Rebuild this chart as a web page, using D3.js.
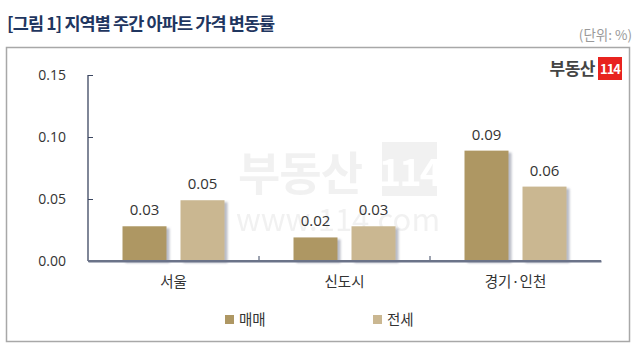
<!DOCTYPE html>
<html>
<meta charset="utf-8">
<title>지역별 주간 아파트 가격 변동률</title>
<style>
  body {
    margin: 0px;
    background: white;
  }
  text {
    font-family: "Noto Sans CJK KR", "Noto Sans", sans-serif;
  }
</style>
<script src="https://cdnjs.cloudflare.com/ajax/libs/d3/7.8.5/d3.min.js"></script>
<body>
<svg width="640" height="352"></svg>
<script>

const regions = ["서울", "신도시", "경기·인천"];
const seriesNames = ["매매", "전세"];
const saleValues = [0.028, 0.019, 0.089];
const rentValues = [0.049, 0.028, 0.060];
const yTicks = [0.00, 0.05, 0.10, 0.15];
const colors = ["#ae9763", "#cab791"];

const svg = d3.select("svg");

// shadow for the bars
const defs = svg.append("defs");
const shadow = defs.append("filter")
    .attr("id", "shadow")
    .attr("x", "-10%").attr("y", "-10%")
    .attr("width", "130%").attr("height", "130%");
shadow.append("feDropShadow")
    .attr("dx", 3).attr("dy", 2)
    .attr("stdDeviation", 1.2)
    .attr("flood-color", "#8a8fa0")
    .attr("flood-opacity", 0.6);

// title
svg.append("text")
    .attr("x", 7)
    .attr("y", 30)
    .style("font-size", "17.5px")
    .style("font-weight", "bold")
    .style("letter-spacing", "-0.9px")
    .style("fill", "#1f3660")
    .text("[그림 1] 지역별 주간 아파트 가격 변동률");

svg.append("text")
    .attr("x", 632)
    .attr("y", 40)
    .attr("text-anchor", "end")
    .style("font-size", "13.5px")
    .style("fill", "#9a9a9a")
    .text("(단위: %)");

// frame
svg.append("rect")
    .attr("x", 6.5).attr("y", 47.5)
    .attr("width", 623).attr("height", 294)
    .style("fill", "none")
    .style("stroke", "#a8a8a8")
    .style("stroke-width", 1.5);

// watermark
const wm = svg.append("g").style("opacity", 0.08);
wm.append("text")
    .attr("x", 238).attr("y", 190)
    .style("font-size", "46px")
    .style("font-weight", "bold")
    .style("letter-spacing", "-1px")
    .style("fill", "#555")
    .text("부동산");
wm.append("rect")
    .attr("x", 382).attr("y", 142)
    .attr("width", 55).attr("height", 54)
    .style("fill", "#555");
wm.append("text")
    .attr("x", 409.5).attr("y", 186)
    .attr("text-anchor", "middle")
    .style("font-size", "38px")
    .style("font-weight", "bold")
    .style("letter-spacing", "-2px")
    .style("fill", "white")
    .text("114");
wm.append("text")
    .attr("x", 338).attr("y", 231)
    .attr("text-anchor", "middle")
    .style("font-size", "31px")
    .style("fill", "#555")
    .text("www.114.com");

// logo
svg.append("text")
    .attr("x", 595).attr("y", 75)
    .attr("text-anchor", "end")
    .style("font-size", "17px")
    .style("font-weight", "bold")
    .style("letter-spacing", "-0.5px")
    .style("fill", "#444")
    .text("부동산");
svg.append("rect")
    .attr("x", 598).attr("y", 57)
    .attr("width", 24).attr("height", 23)
    .style("fill", "#e8231f");
svg.append("text")
    .attr("x", 610).attr("y", 74)
    .attr("text-anchor", "middle")
    .style("font-size", "13px")
    .style("font-weight", "bold")
    .style("letter-spacing", "-1px")
    .style("fill", "white")
    .text("114");

// scales
const x = d3.scaleBand()
    .domain(regions)
    .range([88, 601]);

const y = d3.scaleLinear()
    .domain([0, 0.15])
    .range([261, 75]);

const barW = 44;
const gap = 14;

// y axis
const yAxis = svg.append("g")
    .attr("transform", "translate(88,0)")
    .call(d3.axisLeft(y).tickValues(yTicks).tickFormat(d3.format(".2f")).tickSize(-5).tickPadding(22));
yAxis.select(".domain").attr("d", "M0," + y(0.15) + "V" + y(0)).style("stroke", "#3b4660").style("stroke-width", 1.3);
yAxis.selectAll(".tick line").style("stroke", "#3b4660");
yAxis.selectAll(".tick text")
    .style("font-size", "14px")
    .style("fill", "#333")
    .style("font-family", "\"Open Sans\", \"Noto Sans\", sans-serif");

// x axis
const xAxis = svg.append("g")
    .attr("transform", "translate(0," + y(0) + ")")
    .call(d3.axisBottom(x).tickSize(0).tickPadding(16));
xAxis.select(".domain").style("stroke", "#6b7389").style("stroke-width", 2);
xAxis.selectAll(".tick text")
    .style("font-size", "14.5px")
    .style("fill", "#333");
xAxis.selectAll(".sep")
    .data(regions.slice(1))
  .enter().append("line")
    .attr("x1", d => x(d)).attr("x2", d => x(d))
    .attr("y1", 0).attr("y2", -5)
    .style("stroke", "#3b4660");

// bars
const allSeries = [saleValues, rentValues];
allSeries.forEach(function(values, s) {
  const offset = s === 0 ? -(gap / 2 + barW) : gap / 2;
  const g = svg.append("g");
  g.selectAll("rect")
      .data(values)
    .enter().append("rect")
      .attr("x", (d, i) => x(regions[i]) + x.bandwidth() / 2 + offset)
      .attr("y", d => y(d))
      .attr("width", barW)
      .attr("height", d => y(0) - y(d))
      .style("fill", colors[s])
      .attr("filter", "url(#shadow)");
  g.selectAll("text")
      .data(values)
    .enter().append("text")
      .attr("x", (d, i) => x(regions[i]) + x.bandwidth() / 2 + offset + barW / 2)
      .attr("y", d => y(d) - 11)
      .attr("text-anchor", "middle")
      .style("font-size", "15px")
      .style("fill", "#333")
      .style("font-family", "\"Open Sans\", \"Noto Sans\", sans-serif")
      .text(d => d.toFixed(2));
});

// redraw axis line over bar shadows
svg.append("line")
    .attr("x1", 88).attr("x2", 601)
    .attr("y1", y(0)).attr("y2", y(0))
    .style("stroke", "#6b7389").style("stroke-width", 2);

// legend
const legendX = [225, 373];
const legend = svg.selectAll(".legend")
    .data(seriesNames)
  .enter().append("g")
    .attr("transform", (d, i) => "translate(" + legendX[i] + ",0)");
legend.append("rect")
    .attr("x", 0).attr("y", 315)
    .attr("width", 9).attr("height", 9)
    .style("fill", (d, i) => colors[i]);
legend.append("text")
    .attr("x", 14).attr("y", 325)
    .style("font-size", "14.5px")
    .style("fill", "#333")
    .text(d => d);

</script>
</body>
</html>
